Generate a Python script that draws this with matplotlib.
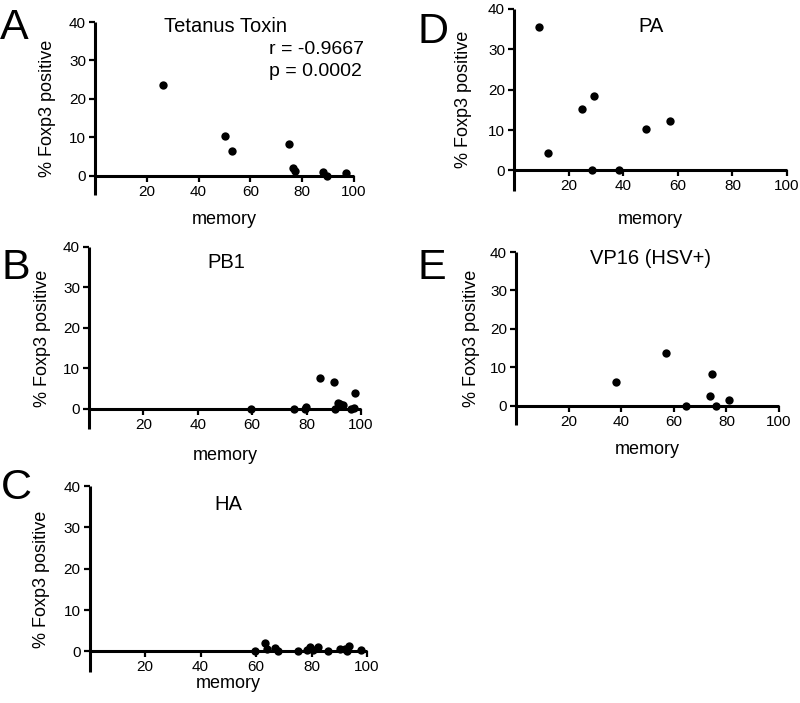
import matplotlib
matplotlib.use("Agg")
import matplotlib.pyplot as plt

plt.rcParams['font.family'] = ['Liberation Sans', 'DejaVu Sans']

# ---- data ----
tt_mem = [26.1, 50.3, 52.8, 75.0, 76.6, 77.1, 87.9, 89.7, 97.1]
tt_foxp3 = [23.5, 10.3, 6.5, 8.2, 2.1, 1.3, 1.1, 0.0, 0.8]

pb1_mem = [59.7, 75.5, 79.7, 79.5, 84.8, 90.0, 90.3, 91.7, 92.4, 93.4, 96.3, 97.4, 97.8]
pb1_foxp3 = [0.0, 0.0, 0.5, 0.0, 7.6, 6.6, 0.0, 1.4, 1.2, 1.0, 0.0, 0.1, 3.9]

ha_mem = [59.8, 63.3, 64.0, 67.0, 67.9, 75.1, 78.3, 79.5, 80.5, 82.4, 85.9, 90.1, 92.0, 92.8, 93.5, 97.7]
ha_foxp3 = [0.0, 2.1, 0.6, 0.7, 0.0, 0.0, 0.3, 1.0, 0.4, 1.0, 0.0, 0.5, 0.6, 0.0, 1.4, 0.4]

pa_mem = [9.0, 12.6, 24.9, 29.4, 28.5, 38.4, 48.2, 57.2]
pa_foxp3 = [35.5, 4.2, 15.3, 18.4, 0.0, 0.0, 10.3, 12.2]

vp16_mem = [38.2, 57.0, 64.7, 73.8, 74.6, 76.1, 81.0]
vp16_foxp3 = [6.3, 13.7, 0.0, 2.5, 8.3, 0.0, 1.5]

panel_letters = ["A", "B", "C", "D", "E"]
panel_titles = ["Tetanus Toxin", "PB1", "HA", "PA", "VP16 (HSV+)"]
x_ticks = [20, 40, 60, 80, 100]
y_ticks = [0, 10, 20, 30, 40]
x_label = "memory"
y_label = "% Foxp3 positive"
stats_lines = ["r = -0.9667", "p = 0.0002"]

W, H = 800, 703
fig = plt.figure(figsize=(W / 100, H / 100), dpi=100)


def fx(x):
    return x / W


def fy(y):
    return 1 - y / H


# layout in pixel coordinates: left, top, right, bottom
layout = {
    "A": (95, 22, 354, 195),
    "B": (89, 247, 361, 429),
    "C": (89.5, 486, 367, 672),
    "D": (514, 9, 787, 190.5),
    "E": (516, 252, 779, 425),
}
title_pos = {"A": (225, 27), "B": (226.7, 262), "C": (228.3, 505),
             "D": (650.7, 27), "E": (650, 259)}
letter_pos = {"A": (14, 28), "B": (16, 268), "C": (16, 488),
              "D": (433, 32), "E": (432, 268)}
xlabel_y = {"A": 220, "B": 455, "C": 683, "D": 219, "E": 449}
ylabel_x = {"A": 47, "B": 43, "C": 42, "D": 463, "E": 472}

series = {
    "A": (tt_mem, tt_foxp3),
    "B": (pb1_mem, pb1_foxp3),
    "C": (ha_mem, ha_foxp3),
    "D": (pa_mem, pa_foxp3),
    "E": (vp16_mem, vp16_foxp3),
}

for letter, title in zip(panel_letters, panel_titles):
    l, t, r, b = layout[letter]
    ax = fig.add_axes([fx(l), fy(b), (r - l) / W, (b - t) / H])
    xs, ys = series[letter]
    ax.scatter(xs, ys, s=36, color="black", zorder=4, clip_on=False, linewidths=0)
    ax.set_xlim(0, 100)
    ax.set_ylim(-5, 40)
    ax.spines['top'].set_visible(False)
    ax.spines['right'].set_visible(False)
    ax.spines['bottom'].set_position(('data', 0))
    for s in ('left', 'bottom'):
        ax.spines[s].set_linewidth(2.2)
        ax.spines[s].set_capstyle('butt')
    ax.set_xticks(x_ticks)
    ax.set_yticks(y_ticks)
    ax.tick_params(axis='both', direction='out', length=4.5, width=1.6,
                   labelsize=11, pad=2)
    ax.patch.set_visible(False)

    # axis labels
    ax.set_xlabel(x_label, fontsize=13)
    ax.xaxis.set_label_coords(0.5, (b - xlabel_y[letter]) / (b - t))
    ax.xaxis.label.set_verticalalignment('center')
    ax.set_ylabel(y_label, fontsize=13)
    ax.yaxis.set_label_coords((ylabel_x[letter] - l) / (r - l), 0.5)
    ax.yaxis.label.set_verticalalignment('center')

    tx, ty = title_pos[letter]
    fig.text(fx(tx), fy(ty), title, fontsize=14.5, ha='center', va='center')
    lx, ly = letter_pos[letter]
    fig.text(fx(lx), fy(ly), letter, fontsize=31, ha='center', va='center')

    if letter == "A":
        fig.text(fx(269), fy(50), stats_lines[0], fontsize=14, ha='left', va='center')
        fig.text(fx(269), fy(71), stats_lines[1], fontsize=14, ha='left', va='center')

fig.savefig("out.png", dpi=100)
